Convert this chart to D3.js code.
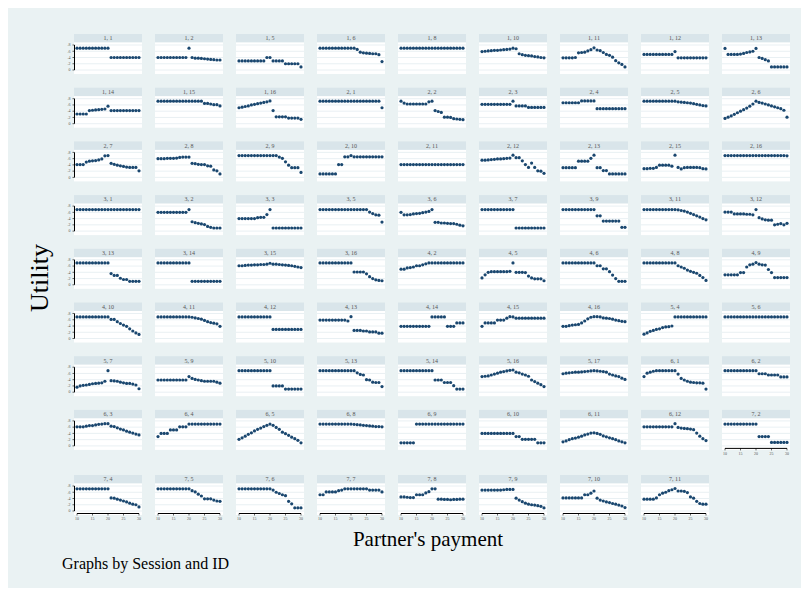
<!DOCTYPE html>
<html>
<head>
<meta charset="utf-8">
<script src="https://cdn.jsdelivr.net/npm/d3@7"></script>
<style>
  body { margin: 0; background: #fff; }
  text { font-family: "Liberation Serif", "DejaVu Serif", serif; }
</style>
</head>
<body>
<script>
// Partner's payment (x) for every panel
var payments = [10, 11, 12, 13, 14, 15, 16, 17, 18, 19, 20, 21, 22, 23, 24, 25, 26, 27, 28, 29, 30];

var xTicks = [10, 15, 20, 25, 30];
var yTicks = [0, .2, .4, .6, .8];
var yTickLabels = ["0", ".2", ".4", ".6", ".8"];

// Session, ID of each panel
var panelLabels = [
    "1, 1", "1, 2", "1, 5", "1, 6", "1, 8", "1, 10", "1, 11", "1, 12", "1, 13",
    "1, 14", "1, 15", "1, 16", "2, 1", "2, 2", "2, 3", "2, 4", "2, 5", "2, 6",
    "2, 7", "2, 8", "2, 9", "2, 10", "2, 11", "2, 12", "2, 13", "2, 15", "2, 16",
    "3, 1", "3, 2", "3, 3", "3, 5", "3, 6", "3, 7", "3, 9", "3, 11", "3, 12",
    "3, 13", "3, 14", "3, 15", "3, 16", "4, 2", "4, 5", "4, 6", "4, 8", "4, 9",
    "4, 10", "4, 11", "4, 12", "4, 13", "4, 14", "4, 15", "4, 16", "5, 4", "5, 6",
    "5, 7", "5, 9", "5, 10", "5, 13", "5, 14", "5, 16", "5, 17", "6, 1", "6, 2",
    "6, 3", "6, 4", "6, 5", "6, 8", "6, 9", "6, 10", "6, 11", "6, 12", "7, 2",
    "7, 4", "7, 5", "7, 6", "7, 7", "7, 8", "7, 9", "7, 10", "7, 11"
];

// Utility at each payment, one row per panel (same order as panelLabels)
var utility = [
    [.70,.70,.70,.70,.70,.70,.70,.70,.70,.70,.70,.40,.40,.40,.40,.40,.40,.40,.40,.40,.40],
    [.40,.40,.40,.40,.40,.40,.40,.40,.40,.40,.70,.40,.38,.38,.37,.36,.35,.34,.33,.32,.32],
    [.29,.29,.29,.29,.29,.29,.29,.29,.29,.40,.40,.29,.29,.29,.29,.20,.20,.20,.20,.20,.10],
    [.70,.70,.70,.70,.70,.70,.70,.70,.70,.70,.70,.70,.66,.57,.55,.54,.53,.52,.52,.49,.27],
    [.70,.70,.70,.70,.70,.70,.70,.70,.70,.70,.70,.70,.70,.70,.70,.70,.70,.70,.70,.70,.70],
    [.59,.60,.61,.62,.63,.63,.64,.65,.66,.67,.70,.68,.52,.49,.47,.46,.45,.43,.42,.40,.39],
    [.39,.39,.39,.39,.40,.55,.56,.57,.61,.65,.71,.64,.62,.56,.50,.47,.41,.30,.23,.18,.10],
    [.50,.50,.50,.50,.50,.50,.50,.50,.50,.50,.59,.39,.39,.39,.39,.39,.39,.39,.39,.39,.39],
    [.69,.50,.50,.50,.50,.51,.53,.56,.58,.60,.69,.40,.37,.33,.29,.10,.10,.10,.10,.10,.10],

    [.31,.31,.31,.31,.42,.43,.44,.45,.46,.47,.56,.42,.42,.42,.42,.42,.42,.42,.42,.42,.42],
    [.72,.72,.72,.72,.72,.72,.72,.72,.72,.72,.72,.72,.72,.72,.72,.65,.65,.63,.61,.61,.57],
    [.51,.53,.55,.57,.60,.62,.64,.66,.68,.70,.73,.42,.22,.22,.22,.22,.18,.18,.18,.18,.14],
    [.72,.72,.72,.72,.72,.72,.72,.72,.72,.72,.72,.72,.72,.72,.72,.72,.72,.72,.72,.72,.51],
    [.72,.66,.63,.63,.63,.63,.63,.63,.63,.70,.72,.42,.39,.36,.21,.21,.20,.16,.15,.14,.13],
    [.62,.62,.62,.62,.62,.62,.62,.62,.62,.62,.72,.57,.57,.57,.57,.52,.52,.52,.52,.52,.52],
    [.67,.67,.67,.67,.67,.67,.73,.73,.73,.73,.73,.48,.48,.48,.48,.48,.48,.48,.48,.48,.48],
    [.72,.72,.72,.72,.72,.72,.72,.72,.72,.72,.72,.70,.69,.68,.67,.66,.64,.62,.60,.58,.57],
    [.17,.21,.25,.30,.35,.40,.45,.50,.56,.63,.72,.68,.66,.63,.60,.57,.54,.51,.48,.43,.21],

    [.41,.41,.41,.49,.52,.53,.54,.56,.59,.69,.70,.45,.42,.39,.37,.35,.33,.32,.32,.32,.21],
    [.60,.60,.60,.61,.61,.61,.62,.64,.65,.65,.65,.45,.44,.42,.41,.41,.37,.36,.24,.21,.11],
    [.70,.70,.70,.70,.70,.70,.70,.70,.70,.70,.70,.70,.70,.65,.61,.50,.39,.31,.31,.31,.16],
    [.11,.11,.11,.11,.11,.11,.41,.41,.66,.66,.70,.66,.66,.66,.66,.66,.66,.66,.66,.66,.66],
    [.41,.41,.41,.41,.41,.41,.41,.41,.41,.41,.41,.41,.41,.41,.41,.41,.41,.41,.41,.41,.41],
    [.55,.55,.56,.57,.58,.59,.59,.60,.61,.62,.71,.63,.63,.53,.41,.32,.46,.32,.21,.20,.13],
    [.31,.31,.31,.31,.31,.52,.52,.52,.52,.61,.71,.31,.31,.22,.22,.11,.11,.11,.11,.11,.11],
    [.28,.28,.29,.29,.32,.39,.39,.39,.39,.36,.71,.32,.27,.31,.32,.32,.32,.32,.31,.28,.27],
    [.70,.70,.70,.70,.70,.70,.70,.70,.70,.70,.70,.70,.70,.70,.70,.70,.70,.70,.70,.70,.69],

    [.69,.69,.69,.69,.69,.69,.69,.69,.69,.69,.69,.69,.69,.69,.69,.69,.69,.69,.69,.69,.69],
    [.60,.60,.60,.60,.60,.60,.60,.60,.60,.60,.69,.30,.27,.25,.23,.21,.15,.12,.10,.10,.10],
    [.40,.40,.40,.40,.40,.40,.43,.44,.44,.53,.69,.10,.10,.10,.10,.10,.10,.10,.10,.10,.10],
    [.69,.69,.69,.69,.69,.69,.69,.69,.69,.69,.69,.69,.69,.69,.69,.69,.61,.56,.52,.51,.29],
    [.60,.52,.52,.53,.55,.56,.57,.59,.61,.63,.69,.28,.28,.26,.26,.25,.24,.24,.22,.19,.17],
    [.69,.69,.69,.69,.69,.69,.69,.69,.69,.69,.69,.10,.10,.10,.10,.10,.10,.10,.10,.10,.10],
    [.69,.69,.69,.69,.69,.69,.69,.69,.69,.69,.69,.49,.49,.32,.32,.32,.32,.32,.32,.12,.12],
    [.69,.69,.69,.69,.69,.69,.69,.69,.69,.69,.69,.68,.66,.64,.61,.57,.53,.49,.45,.40,.36],
    [.61,.61,.61,.55,.55,.55,.55,.54,.54,.52,.69,.43,.39,.36,.35,.35,.20,.22,.24,.20,.25],

    [.70,.70,.70,.70,.70,.70,.70,.70,.70,.70,.70,.36,.30,.30,.21,.17,.17,.11,.11,.11,.11],
    [.70,.70,.70,.70,.70,.70,.70,.70,.70,.70,.70,.11,.11,.11,.11,.11,.11,.11,.11,.11,.11],
    [.61,.61,.62,.63,.63,.64,.64,.65,.65,.66,.69,.66,.66,.65,.64,.63,.62,.61,.59,.57,.55],
    [.70,.70,.70,.70,.70,.70,.70,.70,.70,.70,.70,.41,.41,.41,.41,.35,.26,.20,.16,.14,.13],
    [.50,.50,.54,.55,.57,.61,.61,.64,.67,.70,.70,.70,.70,.70,.70,.70,.70,.70,.70,.70,.70],
    [.22,.32,.40,.42,.42,.42,.42,.42,.42,.43,.70,.40,.40,.40,.39,.28,.22,.19,.19,.19,.13],
    [.70,.70,.70,.70,.70,.70,.70,.70,.70,.70,.70,.61,.61,.51,.51,.42,.31,.20,.11,.11,.11],
    [.70,.70,.70,.70,.70,.70,.70,.70,.70,.70,.70,.61,.57,.53,.47,.43,.40,.37,.30,.23,.14],
    [.32,.32,.32,.32,.32,.39,.39,.57,.64,.66,.71,.66,.64,.63,.49,.39,.23,.23,.23,.23,.23],

    [.69,.69,.69,.69,.69,.69,.69,.69,.69,.69,.69,.61,.61,.54,.48,.43,.39,.31,.24,.18,.13],
    [.69,.69,.69,.69,.69,.69,.69,.69,.69,.69,.69,.68,.66,.64,.62,.58,.54,.51,.49,.47,.39],
    [.69,.69,.69,.69,.69,.69,.69,.69,.69,.69,.69,.29,.29,.29,.29,.29,.29,.29,.29,.29,.29],
    [.59,.59,.59,.59,.59,.59,.59,.59,.59,.56,.70,.26,.26,.26,.24,.24,.21,.21,.21,.17,.17],
    [.39,.39,.39,.39,.39,.39,.39,.39,.39,.39,.69,.69,.69,.69,.69,.39,.39,.39,.50,.50,.50],
    [.39,.50,.50,.50,.50,.59,.59,.59,.65,.70,.69,.65,.65,.65,.65,.65,.65,.65,.65,.65,.65],
    [.39,.39,.41,.43,.44,.45,.50,.56,.63,.68,.70,.70,.69,.66,.65,.64,.62,.59,.57,.55,.54],
    [.14,.18,.23,.26,.29,.31,.35,.37,.38,.40,.69,.69,.69,.69,.69,.69,.69,.69,.69,.69,.69],
    [.69,.69,.69,.69,.69,.69,.69,.69,.69,.69,.69,.69,.69,.69,.69,.69,.69,.69,.69,.69,.69],

    [.16,.20,.22,.23,.25,.27,.28,.29,.30,.35,.69,.37,.36,.35,.32,.30,.28,.28,.26,.23,.11],
    [.39,.39,.39,.39,.39,.39,.39,.39,.39,.39,.50,.44,.41,.39,.37,.35,.35,.35,.35,.32,.29],
    [.69,.69,.69,.69,.69,.69,.69,.69,.69,.69,.69,.20,.20,.20,.20,.10,.10,.10,.10,.10,.10],
    [.69,.69,.69,.69,.69,.69,.69,.69,.69,.69,.69,.69,.62,.57,.55,.40,.39,.32,.31,.31,.18],
    [.69,.69,.69,.69,.69,.69,.69,.69,.69,.69,.69,.39,.39,.39,.31,.31,.31,.21,.10,.10,.10],
    [.50,.51,.52,.55,.58,.61,.64,.66,.68,.70,.71,.64,.62,.58,.55,.51,.39,.34,.29,.24,.18],
    [.59,.61,.62,.63,.64,.64,.65,.66,.67,.68,.69,.68,.67,.66,.64,.58,.55,.52,.50,.45,.41],
    [.50,.61,.64,.67,.69,.69,.69,.69,.69,.69,.69,.58,.44,.39,.35,.32,.31,.30,.30,.29,.10],
    [.69,.69,.69,.69,.69,.69,.69,.69,.69,.69,.69,.59,.59,.59,.55,.55,.55,.55,.49,.49,.49],

    [.61,.61,.61,.63,.65,.65,.67,.69,.70,.71,.71,.63,.62,.58,.54,.51,.47,.44,.41,.38,.35],
    [.30,.40,.40,.40,.51,.51,.51,.61,.61,.61,.70,.70,.70,.70,.70,.70,.70,.70,.70,.70,.70],
    [.21,.26,.31,.37,.42,.48,.53,.57,.62,.66,.70,.66,.59,.53,.44,.39,.34,.28,.23,.18,.10],
    [.70,.70,.70,.70,.70,.70,.70,.70,.70,.70,.70,.69,.68,.67,.66,.65,.64,.63,.62,.62,.61],
    [.10,.10,.10,.10,.10,.70,.70,.70,.70,.70,.70,.70,.70,.70,.70,.70,.70,.70,.70,.70,.70],
    [.40,.40,.40,.40,.40,.40,.40,.40,.40,.40,.40,.30,.30,.21,.21,.21,.21,.21,.10,.10,.10],
    [.13,.16,.20,.23,.25,.28,.31,.35,.38,.41,.42,.40,.37,.32,.29,.26,.23,.20,.16,.13,.10],
    [.61,.61,.61,.61,.61,.61,.61,.61,.61,.61,.71,.59,.57,.56,.55,.54,.52,.41,.31,.23,.17],
    [.70,.70,.70,.70,.70,.70,.70,.70,.70,.70,.70,.30,.30,.30,.30,.11,.11,.11,.11,.11,.11],

    [.71,.71,.71,.71,.71,.71,.71,.71,.71,.71,.71,.42,.41,.38,.35,.32,.29,.25,.22,.20,.13],
    [.71,.71,.71,.71,.71,.71,.71,.71,.71,.71,.71,.65,.61,.54,.48,.39,.39,.39,.35,.32,.31],
    [.71,.71,.71,.71,.71,.71,.71,.71,.71,.71,.71,.67,.60,.56,.52,.49,.31,.23,.10,.10,.10],
    [.52,.52,.61,.61,.61,.61,.65,.67,.71,.71,.71,.71,.71,.71,.71,.71,.67,.67,.67,.67,.61],
    [.45,.45,.44,.43,.43,.52,.52,.52,.58,.62,.71,.71,.38,.38,.37,.37,.36,.37,.37,.38,.38],
    [.67,.67,.67,.67,.67,.67,.67,.68,.69,.69,.69,.41,.35,.30,.25,.22,.20,.19,.17,.15,.10],
    [.42,.42,.42,.42,.42,.42,.42,.52,.52,.57,.64,.41,.35,.32,.29,.27,.24,.22,.19,.16,.11],
    [.38,.38,.38,.38,.42,.52,.57,.60,.65,.68,.72,.64,.64,.63,.59,.45,.41,.31,.24,.22,.22]
];

var width = 809, height = 592;
var nCols = 9;
var panelW = 68;

var svg = d3.select("body")
    .append("svg")
    .attr("width", width)
    .attr("height", height);

// graph region
svg.append("rect")
    .attr("x", 8).attr("y", 8)
    .attr("width", 793).attr("height", 580)
    .attr("fill", "#eaf2f3");

// scales inside one panel
var x = d3.scaleLinear().domain([10, 30]).range([3, 65]);
var y = d3.scaleLinear().domain([0, .8]).range([36, 11]);

function panelLeft(col) { return 74 + col * 81; }
function panelTop(row) { return row < 8 ? 34 + row * 53.7 : 475; }

var panels = svg.selectAll(".panel")
    .data(panelLabels)
    .enter()
    .append("g")
    .attr("class", "panel")
    .attr("transform", function(d, i){
        return "translate(" + panelLeft(i % nCols) + "," + panelTop(Math.floor(i / nCols)) + ")";
    });

// strip with session, id
panels.append("rect")
    .attr("width", panelW).attr("height", 8.5)
    .attr("fill", "#d9e5ea");

panels.append("text")
    .attr("x", panelW / 2).attr("y", 6.4)
    .attr("text-anchor", "middle")
    .attr("font-size", 6)
    .attr("fill", "#555")
    .text(function(d){ return d; });

// plot region
panels.append("rect")
    .attr("y", 8.5)
    .attr("width", panelW).attr("height", 31.5)
    .attr("fill", "#fff");

panels.each(function(d, i){
    var g = d3.select(this);

    g.selectAll(".grid")
        .data(yTicks)
        .enter()
        .append("line")
        .attr("x1", 0).attr("x2", panelW)
        .attr("y1", function(t){ return y(t); })
        .attr("y2", function(t){ return y(t); })
        .attr("stroke", "#e3ecf0")
        .attr("stroke-width", 0.8);

    // y axis only on the first column
    if (i % nCols === 0) {
        var ya = g.append("g").attr("transform", "translate(0.5,0)");
        ya.append("line")
            .attr("y1", y(.8)).attr("y2", y(0))
            .attr("stroke", "#000").attr("stroke-width", 1);
        ya.selectAll(".yt")
            .data(yTicks)
            .enter()
            .append("line")
            .attr("x1", -2).attr("x2", 0)
            .attr("y1", function(t){ return y(t); })
            .attr("y2", function(t){ return y(t); })
            .attr("stroke", "#000").attr("stroke-width", 0.6);
        ya.selectAll(".yl")
            .data(yTicks)
            .enter()
            .append("text")
            .attr("x", -4)
            .attr("y", function(t){ return y(t) + 1.3; })
            .attr("text-anchor", "end")
            .attr("font-size", 4)
            .attr("fill", "#555")
            .text(function(t, k){ return yTickLabels[k]; });
    }

    // x axis where no panel sits below
    if (i + nCols >= panelLabels.length) {
        var xa = g.append("g").attr("transform", "translate(0,38.5)");
        xa.append("line")
            .attr("x1", x(10)).attr("x2", x(30))
            .attr("stroke", "#000").attr("stroke-width", 1);
        xa.selectAll(".xt")
            .data(xTicks)
            .enter()
            .append("line")
            .attr("x1", function(t){ return x(t); })
            .attr("x2", function(t){ return x(t); })
            .attr("y1", 0).attr("y2", 2)
            .attr("stroke", "#000").attr("stroke-width", 0.6);
        xa.selectAll(".xl")
            .data(xTicks)
            .enter()
            .append("text")
            .attr("x", function(t){ return x(t); })
            .attr("y", 6.5)
            .attr("text-anchor", "middle")
            .attr("font-size", 4)
            .attr("fill", "#555")
            .text(function(t){ return t; });
    }

    g.selectAll(".dot")
        .data(utility[i])
        .enter()
        .append("circle")
        .attr("cx", function(v, k){ return x(payments[k]); })
        .attr("cy", function(v){ return y(v); })
        .attr("r", 1.6)
        .attr("fill", "#1a476f");
});

// axis titles and note
svg.append("text")
    .attr("transform", "translate(48,278) rotate(-90)")
    .attr("text-anchor", "middle")
    .attr("font-size", 26)
    .attr("fill", "#000")
    .text("Utility");

svg.append("text")
    .attr("x", 428).attr("y", 546)
    .attr("text-anchor", "middle")
    .attr("font-size", 21)
    .attr("fill", "#000")
    .text("Partner's payment");

svg.append("text")
    .attr("x", 62).attr("y", 569)
    .attr("font-size", 16)
    .attr("fill", "#000")
    .text("Graphs by Session and ID");
</script>
</body>
</html>
